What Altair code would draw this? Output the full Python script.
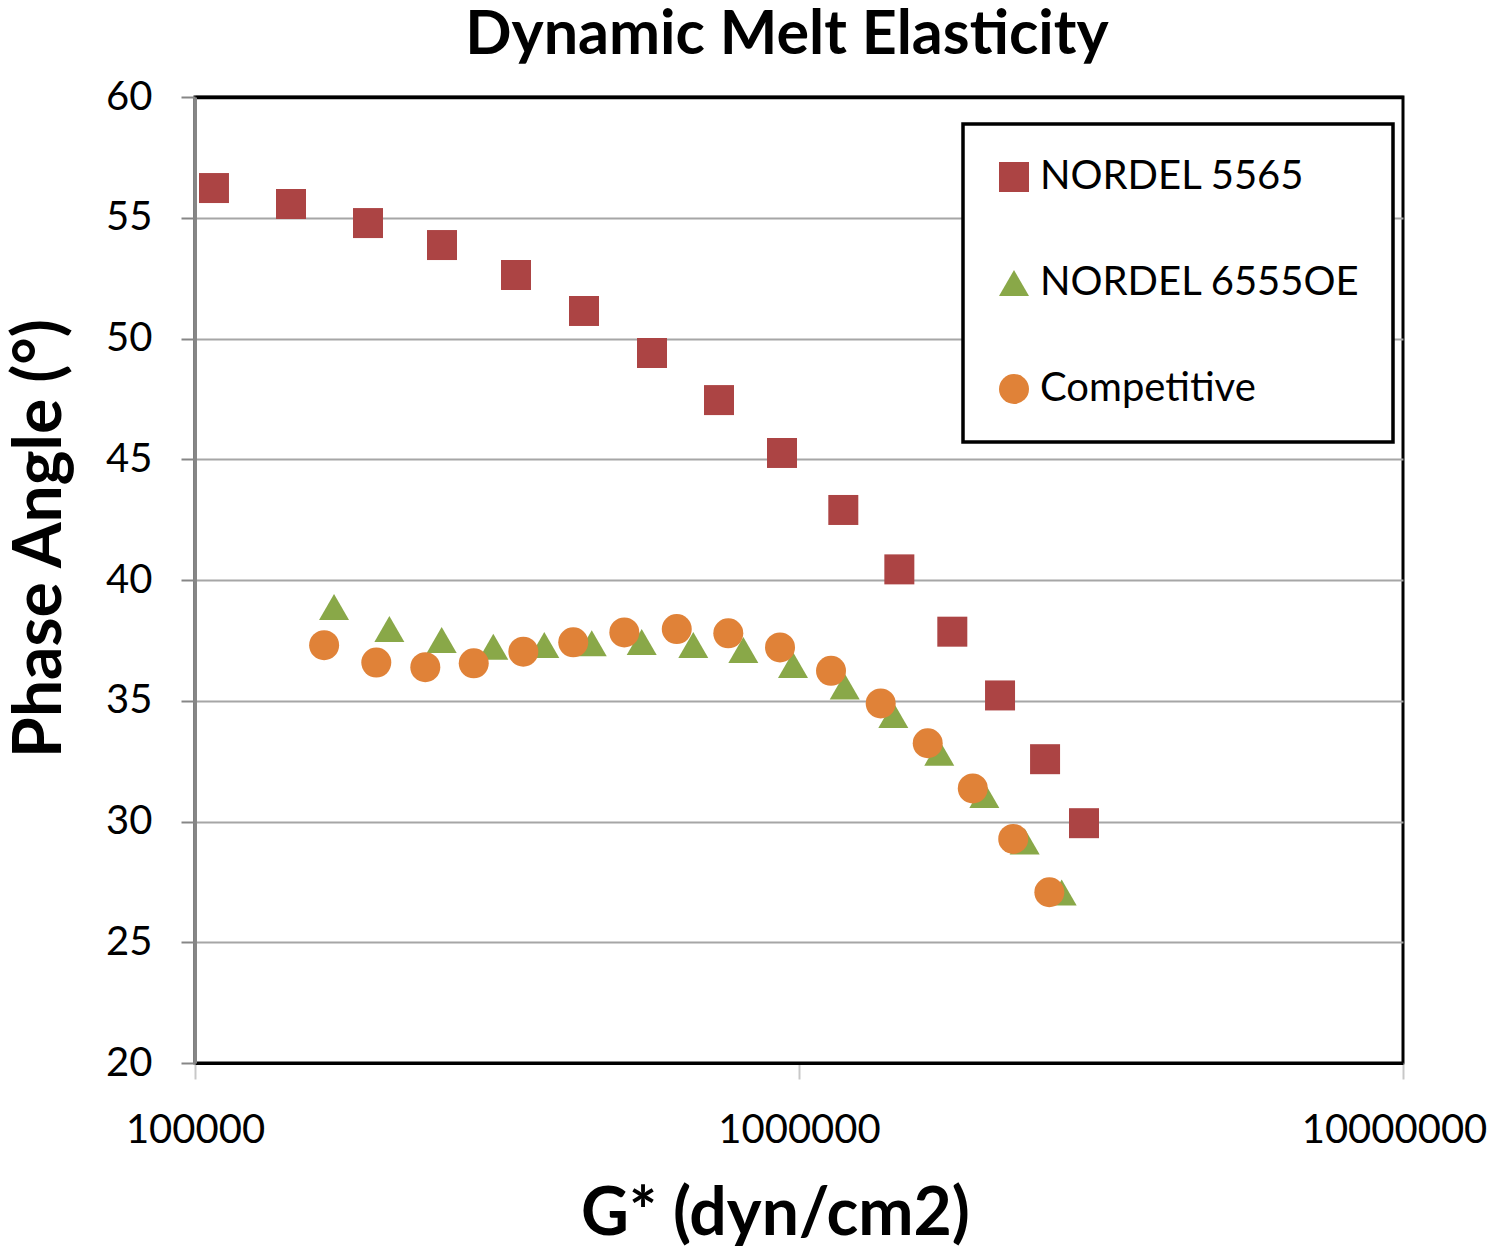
import altair as alt
import pandas as pd

series_names = ["NORDEL 5565", "NORDEL 6555OE", "Competitive"]
series_colors = ["#AC4444", "#89A848", "#E08238"]
series_shapes = ["square", "triangle-up", "circle"]

n5565_g = [107500, 144200, 193400, 256400, 340000, 440600, 571000, 737200,
           937300, 1184000, 1466000, 1794000, 2152000, 2555000, 2964000]
n5565_phase = [56.23, 55.57, 54.78, 53.87, 52.63, 51.14, 49.40, 47.45,
               45.26, 42.90, 40.44, 37.86, 35.22, 32.58, 29.93]

n6555_g = [169900, 209800, 256100, 311800, 378700, 453800, 549000, 668300,
           808800, 977400, 1190400, 1432600, 1706900, 2027000, 2364000, 2722000]
n6555_phase = [38.88, 37.97, 37.52, 37.24, 37.31, 37.38, 37.43, 37.31,
               37.10, 36.48, 35.59, 34.41, 32.85, 31.10, 29.17, 27.06]

comp_g = [163600, 199600, 240600, 289400, 349600, 422900, 513800, 627500,
          763700, 930200, 1129800, 1365400, 1633500, 1939700, 2263000, 2597000]
comp_phase = [37.30, 36.58, 36.39, 36.55, 37.03, 37.42, 37.83, 37.97,
              37.79, 37.21, 36.24, 34.89, 33.24, 31.37, 29.28, 27.07]

x_ticks = [100000, 1000000, 10000000]
y_ticks = [20, 25, 30, 35, 40, 45, 50, 55, 60]

rows = []
k = 0
for name, gs, ps in [(series_names[0], n5565_g, n5565_phase),
                     (series_names[1], n6555_g, n6555_phase),
                     (series_names[2], comp_g, comp_phase)]:
    for g, p in zip(gs, ps):
        rows.append({"series": name, "G": g, "phase": p, "order": k})
        k += 1
df = pd.DataFrame(rows)

FONT = "Lato"

legend_kw = dict(
    title=None,
    orient="none",
    legendX=768,
    legendY=27,
    padding=33,
    symbolSize=900,
    symbolOffset=-2,
    labelFont=FONT,
    labelFontSize=40,
    labelColor="#000000",
    labelOffset=6,
    rowPadding=66,
    fillColor="#FFFFFF",
    strokeColor="#000000",
    symbolStrokeWidth=0,
    symbolOpacity=1,
    labelLimit=500,
)

chart = alt.Chart(df).mark_point(filled=True, size=900, opacity=1, strokeWidth=0).encode(
    x=alt.X(
        "G:Q",
        title="G* (dyn/cm2)",
        scale=alt.Scale(type="log", domain=[100000, 10000000], nice=False),
        axis=alt.Axis(
            values=x_ticks,
            format="d",
            grid=False,
            domainColor="#000000",
            domainWidth=3,
            tickColor="#C8C8C8",
            tickSize=16,
            tickWidth=2,
            labelPadding=31,
            labelFlush=False,
            labelLimit=400,
            labelOffset={"condition": {"test": "datum.value >= 10000000", "value": -9},
                         "value": 0},
            labelFont=FONT,
            labelFontSize=40,
            labelColor="#000000",
            titleFont=FONT,
            titleFontSize=66,
            titleFontWeight="bold",
            titleColor="#000000",
            titleX=580,
            titleY=171,
            titleBaseline="alphabetic",
            titleAlign="center",
        ),
    ),
    y=alt.Y(
        "phase:Q",
        title="Phase Angle (°)",
        scale=alt.Scale(domain=[20, 60], nice=False, zero=False),
        axis=alt.Axis(
            values=y_ticks,
            grid=True,
            gridColor={"condition": {"test": "datum.value >= 60", "value": "#000000"},
                       "value": "#A6A6A6"},
            gridWidth={"condition": {"test": "datum.value >= 60", "value": 3.5},
                       "value": 2},
            domainColor="#868686",
            domainWidth=3,
            tickColor="#868686",
            tickSize=14,
            tickWidth=2,
            labelPadding=29,
            labelFont=FONT,
            labelFontSize=40,
            labelColor="#000000",
            titleFont=FONT,
            titleFontSize=66,
            titleFontWeight="bold",
            titleColor="#000000",
            titleAngle=270,
            titleX=-135,
            titleY=441,
            titleBaseline="alphabetic",
            titleAlign="center",
        ),
    ),
    color=alt.Color(
        "series:N",
        scale=alt.Scale(domain=series_names, range=series_colors),
        legend=alt.Legend(**legend_kw),
    ),
    shape=alt.Shape(
        "series:N",
        scale=alt.Scale(domain=series_names, range=series_shapes),
        legend=alt.Legend(**legend_kw),
    ),
    order=alt.Order("order:Q"),
).properties(
    width=1208,
    height=966,
    title=alt.TitleParams(
        "Dynamic Melt Elasticity",
        font=FONT,
        fontSize=61,
        fontWeight="bold",
        color="#000000",
        anchor="middle",
        dx=-12,
        offset=-38,
        baseline="alphabetic",
    ),
    autosize=alt.AutoSizeParams(type="none"),
    padding={"left": 187, "top": 89, "right": 88, "bottom": 183},
).configure_view(
    stroke="#000000",
    strokeWidth=3,
).configure_legend(
    strokeWidth=3.5,
)

chart.save("out.html", embed_options={"renderer": "svg", "actions": False})
